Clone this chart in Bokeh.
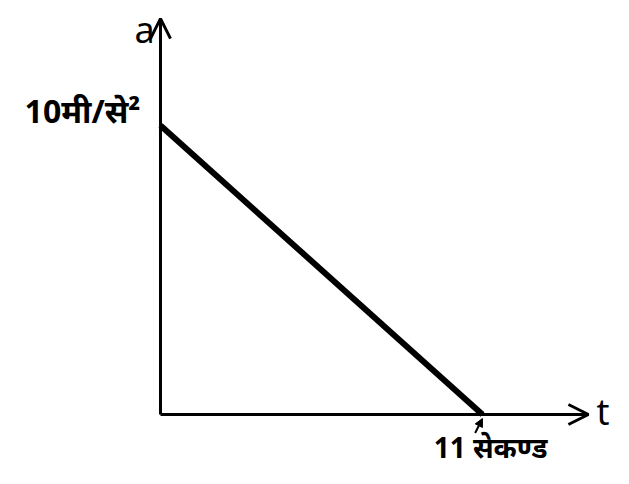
from bokeh.plotting import figure
from bokeh.models import Range1d, Arrow, OpenHead, NormalHead
from bokeh.core.properties import value
from bokeh.embed import file_html
from bokeh.resources import INLINE

# data
t = [0, 11]
a = [10, 0]
y_label = "10मी/से²"
x_label = "11 सेकण्ड"
x_axis_name = "t"
y_axis_name = "a"

W, H = 613, 468
p = figure(width=W, height=H, output_backend="svg", toolbar_location=None,
           x_range=Range1d(-5.466, 15.477), y_range=Range1d(-1.869, 14.325),
           min_border=0, outline_line_color=None)
p.axis.visible = False
p.grid.visible = False

x_end = 14.62
y_end = 13.70

# axes
p.add_layout(Arrow(end=OpenHead(size=20, line_width=3, line_color="black"),
                   x_start=0, y_start=0, x_end=0, y_end=y_end,
                   line_width=3, line_color="black"))
p.add_layout(Arrow(end=OpenHead(size=20, line_width=3, line_color="black"),
                   x_start=0, y_start=0, x_end=x_end, y_end=0,
                   line_width=3, line_color="black"))

# the a-t line
p.line(t, a, line_width=6, line_color="black")

# pointer from label to t=11
p.add_layout(Arrow(end=NormalHead(size=8, fill_color="black", line_color="black"),
                   x_start=t[1] - 0.25, y_start=-0.64, x_end=t[1], y_end=-0.14,
                   line_width=2, line_color="black"))

font = value("Noto Sans")
p.text(x=[-0.683], y=[10.52], text=[y_label], text_align="right",
       text_baseline="middle", text_font=font, text_font_size="32px",
       text_font_style="bold", text_color="black")
p.text(x=[11.275], y=[-1.13], text=[x_label], text_align="center",
       text_baseline="middle", text_font=font, text_font_size="28px",
       text_font_style="bold", text_color="black")
p.text(x=[-0.2], y=[13.33], text=[y_axis_name], text_align="right",
       text_baseline="middle", text_font=font, text_font_size="36px",
       text_color="black")
p.text(x=[14.9], y=[0.1], text=[x_axis_name], text_align="left",
       text_baseline="middle", text_font=font, text_font_size="36px",
       text_color="black")

open("out.html", "w").write(file_html(p, INLINE))
